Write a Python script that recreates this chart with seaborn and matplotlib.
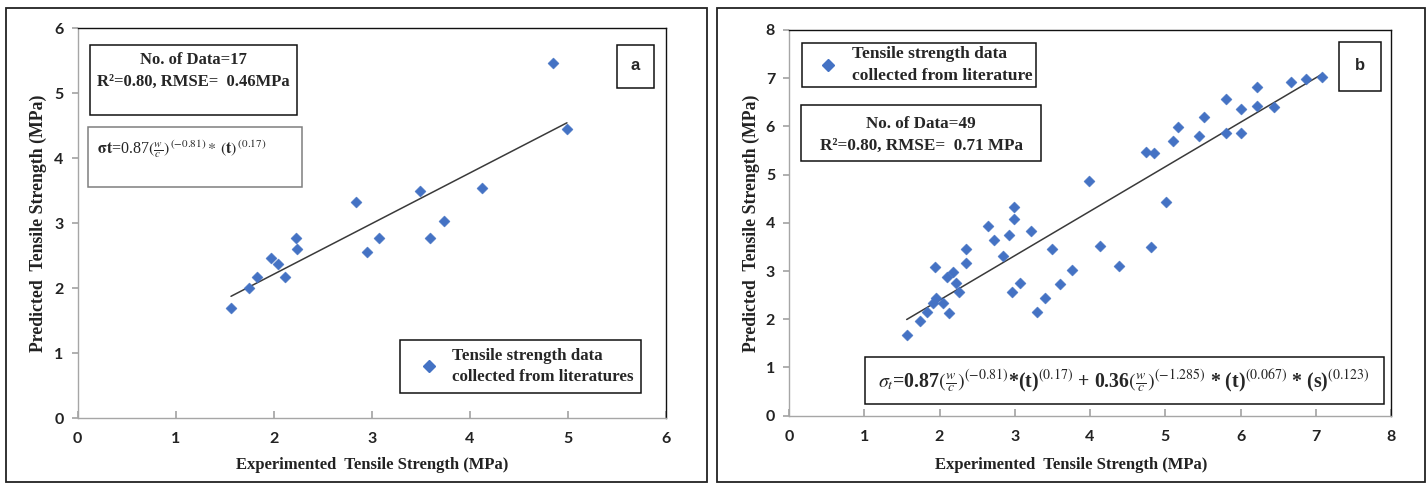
import numpy as np
import pandas as pd
import matplotlib
matplotlib.use("Agg")
import matplotlib.pyplot as plt
from matplotlib.patches import Rectangle
import seaborn as sns

# ---------------- data ----------------
exp_a = [1.565, 1.75, 1.83, 1.97, 2.04, 2.12, 2.23, 2.24, 2.84, 2.95, 3.07,
         3.49, 3.59, 3.74, 4.12, 4.85, 4.99]
pred_a = [1.70, 2.00, 2.17, 2.46, 2.37, 2.17, 2.77, 2.60, 3.33, 2.56, 2.77,
          3.49, 2.77, 3.04, 3.55, 5.46, 4.45]

exp_b = [1.564, 1.745, 1.84, 1.92, 1.96, 1.94, 2.05, 2.13, 2.10, 2.18, 2.22,
         2.255, 2.35, 2.35, 2.65, 2.72, 2.85, 2.92, 2.96, 2.99, 2.99, 3.07,
         3.21, 3.30, 3.40, 3.50, 3.60, 3.76, 3.99, 4.13, 4.38, 4.81, 4.74,
         4.855, 5.01, 5.10, 5.17, 5.45, 5.51, 5.81, 5.81, 6.01, 6.01, 6.22,
         6.22, 6.44, 6.67, 6.87, 7.08]
pred_b = [1.68, 1.97, 2.15, 2.34, 2.45, 3.08, 2.33, 2.12, 2.88, 2.99, 2.75,
          2.57, 3.16, 3.45, 3.94, 3.65, 3.31, 3.74, 2.56, 4.07, 4.32, 2.75,
          3.84, 2.15, 2.44, 3.46, 2.73, 3.02, 4.86, 3.53, 3.11, 3.50, 5.47,
          5.44, 4.44, 5.69, 5.99, 5.80, 6.20, 6.57, 5.87, 6.36, 5.87, 6.81,
          6.43, 6.41, 6.93, 6.99, 7.02]

xticks_a = [0, 1, 2, 3, 4, 5, 6]
yticks_a = [0, 1, 2, 3, 4, 5, 6]
xticks_b = [0, 1, 2, 3, 4, 5, 6, 7, 8]
yticks_b = [0, 1, 2, 3, 4, 5, 6, 7, 8]

xlabel = "Experimented  Tensile Strength (MPa)"
ylabel = "Predicted  Tensile Strength (MPa)"
legend_a = "Tensile strength data\ncollected from literatures"
legend_b = "Tensile strength data\ncollected from literature"
stats_a = "No. of Data=17\nR²=0.80, RMSE=  0.46MPa"
stats_b = "No. of Data=49\nR²=0.80, RMSE=  0.71 MPa"
formula_a = r"$\mathbf{\sigma t}$=0.87$(\frac{w}{c})^{\,(-0.81)}*\,(\mathbf{t})^{\,(0.17)}$"
formula_b = (r"$\sigma_t$=0.87$(\frac{w}{c})^{(-0.81)}$*(t)$^{(0.17)}$ + 0.36"
             r"$(\frac{w}{c})^{(-1.285)}$ * (t)$^{(0.067)}$ * (s)$^{(0.123)}$")

df_a = pd.DataFrame({"exp": exp_a, "pred": pred_a})
df_b = pd.DataFrame({"exp": exp_b, "pred": pred_b})

# ---------------- style ----------------
sns.set_theme(style="white")
plt.rcParams["font.family"] = ["Liberation Serif", "DejaVu Serif"]
plt.rcParams["mathtext.fontset"] = "stix"

W, H = 1428, 486
fig = plt.figure(figsize=(W / 100, H / 100), dpi=100)
fig.patch.set_facecolor("white")

BLUE = "#4472C4"
SERIF = ["Liberation Serif", "DejaVu Serif"]
TICKF = ["Lato", "Liberation Sans", "DejaVu Sans"]


def px_rect(x0, y0, x1, y1):
    """figure-fraction rectangle from pixel box (top-left origin)."""
    return (x0 / W, 1 - y1 / H, (x1 - x0) / W, (y1 - y0) / H)


# outer chart-area frames
for (x0, y0, x1, y1) in [(6, 8, 707, 482), (717, 8, 1425, 482)]:
    l, b, w, h = px_rect(x0, y0, x1, y1)
    fig.patches.append(Rectangle((l, b), w, h, transform=fig.transFigure,
                                 fill=False, edgecolor="#222222", lw=1.3))

ax_a = fig.add_axes(px_rect(77.5, 28.3, 666, 418.3))
ax_b = fig.add_axes(px_rect(789, 30, 1391, 415.7))


def style_axes(ax, xt, yt, xlab_x, ylab_x, xlab_y):
    ax.set_xlim(xt[0], xt[-1])
    ax.set_ylim(yt[0], yt[-1])
    ax.set_xticks(xt)
    ax.set_yticks(yt)
    for s in ["top", "right"]:
        ax.spines[s].set_color("#111111")
        ax.spines[s].set_linewidth(1.0)
    for s in ["left", "bottom"]:
        ax.spines[s].set_color("#a6a6a6")
        ax.spines[s].set_linewidth(1.0)
    ax.tick_params(axis="x", direction="in", length=5, color="#a6a6a6",
                   bottom=True, pad=10)
    ax.tick_params(axis="y", direction="out", length=4, color="#a6a6a6",
                   left=True, pad=6)
    for lab in ax.get_xticklabels() + ax.get_yticklabels():
        lab.set_family(TICKF)
        lab.set_fontweight("bold")
        lab.set_fontsize(11.5)
        lab.set_color("#222222")
    ax.set_xlabel(xlabel, family=SERIF, fontweight="bold", fontsize=12,
                  color="#222222")
    ax.set_ylabel(ylabel, family=SERIF, fontweight="bold", fontsize=12.8,
                  color="#222222")
    ax.xaxis.set_label_coords(xlab_x, xlab_y)
    ax.yaxis.set_label_coords(ylab_x, 0.5)
    ax.grid(False)
    ax.set_facecolor("white")


def draw_panel(ax, df):
    sns.regplot(data=df, x="exp", y="pred", ax=ax, scatter=False, ci=None,
                line_kws=dict(color="#3a3a3a", lw=1.1))
    sns.scatterplot(data=df, x="exp", y="pred", ax=ax, marker="D", s=32,
                    color=BLUE, edgecolor=BLUE, linewidth=0.3, zorder=3)


def box(x0, y0, x1, y1, ec="#111111", lw=1.1):
    l, b, w, h = px_rect(x0, y0, x1, y1)
    fig.patches.append(Rectangle((l, b), w, h, transform=fig.transFigure,
                                 fill=True, facecolor="white", edgecolor=ec,
                                 lw=lw, zorder=5))


def make_legend(ax, label, anchor, fs, pad, hlen, htp):
    h = plt.Line2D([], [], marker="D", ls="none", color=BLUE, markersize=6)
    leg = ax.legend([h], [label], loc="upper left", bbox_to_anchor=anchor,
                    borderaxespad=0, frameon=True, fancybox=False,
                    edgecolor="#111111", framealpha=1,
                    prop=dict(family=SERIF, weight="bold", size=fs),
                    handlelength=hlen, handletextpad=htp, borderpad=pad)
    leg.get_frame().set_linewidth(1.1)
    for t in leg.get_texts():
        t.set_linespacing(1.45)
    return leg


# ---------------- panel a ----------------
draw_panel(ax_a, df_a)
style_axes(ax_a, xticks_a, yticks_a, 0.50, -0.052, -0.099)

box(90, 45, 297, 115)
fig.text(193.5 / W, 1 - 71 / H, stats_a, ha="center", va="center",
         family=SERIF, fontweight="bold", fontsize=12, linespacing=1.45,
         zorder=6)
box(88, 127, 302, 187, ec="#7f7f7f")
fig.text(97 / W, 1 - 149 / H, formula_a, ha="left", va="center",
         family=SERIF, fontsize=11.5, zorder=6)
box(617, 45, 654, 88)
fig.text(635.5 / W, 1 - 66 / H, "a", ha="center", va="center",
         family=["Liberation Sans", "DejaVu Sans"], fontweight="bold",
         fontsize=12, zorder=6)

make_legend(ax_a, legend_a, ((400 - 77.5) / 588.5, (418.3 - 340) / 390),
            12.2, 0.45, 2.5, 0.1)

# ---------------- panel b ----------------
draw_panel(ax_b, df_b)
style_axes(ax_b, xticks_b, yticks_b, 0.468, -0.048, -0.107)

box(801, 105, 1041, 161)
fig.text(921 / W, 1 - 135 / H, stats_b, ha="center", va="center",
         family=SERIF, fontweight="bold", fontsize=12.3, linespacing=1.45,
         zorder=6)
box(1339, 42, 1381, 91)
fig.text(1360 / W, 1 - 66 / H, "b", ha="center", va="center",
         family=["Liberation Sans", "DejaVu Sans"], fontweight="bold",
         fontsize=12, zorder=6)
box(865, 357, 1384, 404)
fig.text(1124 / W, 1 - 381 / H, formula_b, ha="center", va="center",
         family=SERIF, fontweight="bold", fontsize=14.3, zorder=6)

make_legend(ax_b, legend_b, ((802 - 789) / 602, (415.7 - 43) / 385.7),
            12.5, 0.2, 2.6, 0.1)

fig.savefig("out.png", dpi=100, facecolor="white")
